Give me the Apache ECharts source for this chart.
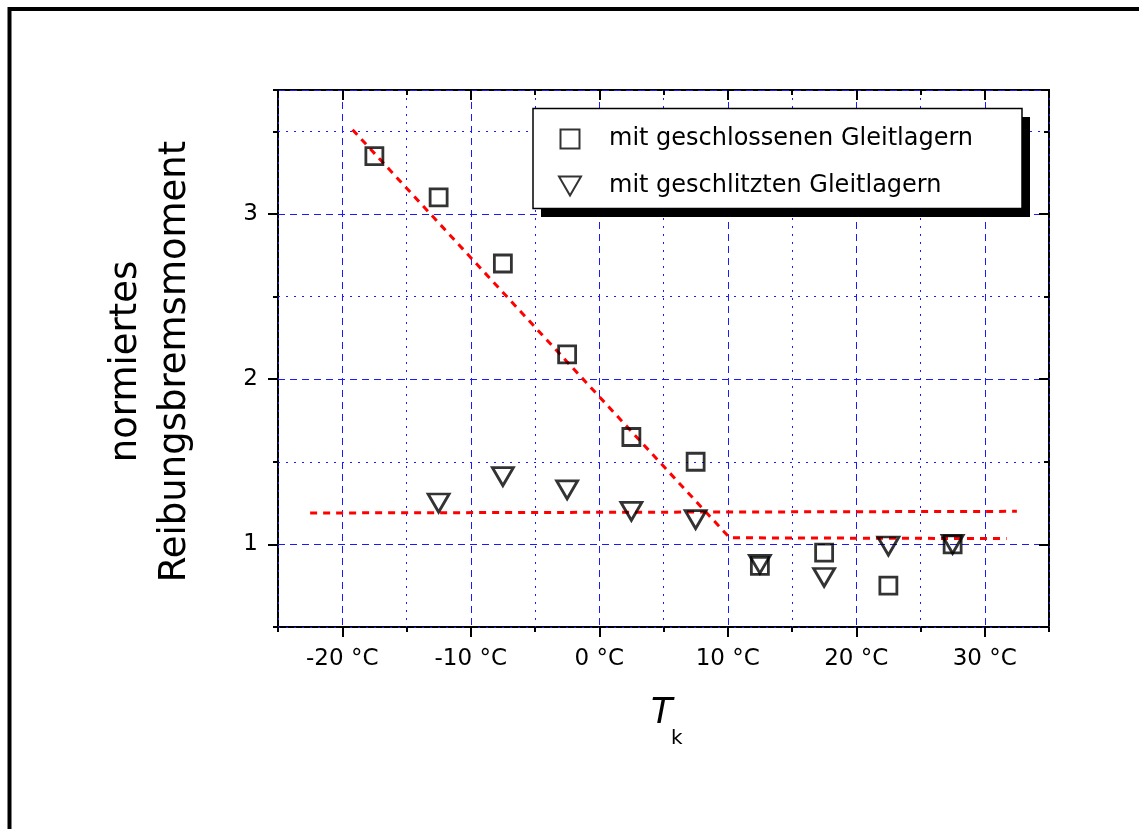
<!DOCTYPE html>
<html>
<head>
<meta charset="utf-8">
<script src="https://cdn.jsdelivr.net/npm/echarts@6/dist/echarts.min.js"></script>
<style>
  html, body { margin: 0; padding: 0; background: #fff; }
  #chart { width: 1139px; height: 829px; }
</style>
</head>
<body>
<div id="chart"></div>
<script>
// temperature classes (°C)
const tempClosed = [-17.5, -12.5, -7.5, -2.5, 2.5, 7.5, 12.5, 17.5, 22.5, 27.5];
const valClosed  = [3.35, 3.10, 2.70, 2.15, 1.65, 1.50, 0.87, 0.95, 0.75, 1.00];
const tempSlotted = [-12.5, -7.5, -2.5, 2.5, 7.5, 12.5, 17.5, 22.5, 27.5];
const valSlotted  = [1.25, 1.41, 1.33, 1.20, 1.15, 0.88, 0.80, 0.99, 1.00];
// red dashed trend lines
const fitClosedX = [-19.2, 10.15, 31.7];
const fitClosedY = [3.51, 1.04, 1.035];
const fitSlottedX = [-22.5, 32.5];
const fitSlottedY = [1.19, 1.20];
// axis ticks
const xMajor = [-20, -10, 0, 10, 20, 30];
const yMajor = [1, 2, 3];

const FONT = '"DejaVu Sans", sans-serif';
const BLUE = '#1a1aff';
const CLEAR = 'rgba(0,0,0,0)';
const X_RANGE = { min: -25, max: 35, interval: 5 };
const Y_RANGE = { min: 0.5, max: 3.75, interval: 0.5 };

function pairs(xs, ys) { return xs.map((x, i) => [x, ys[i]]); }

function baseAxis(range, position, extra) {
  return Object.assign({
    type: 'value', position: position,
    min: range.min, max: range.max, interval: range.interval,
    axisLine: { show: false, onZero: false },
    axisTick: { show: false },
    axisLabel: { show: false },
    splitLine: { show: false }
  }, extra);
}

const tickStyle = { color: '#000', width: 2 };

const xAxes = [
  // major grid (dashed), every second line
  baseAxis(X_RANGE, 'bottom', { splitLine: { show: true, lineStyle: { color: [CLEAR, BLUE], type: [7, 5], width: 1 } } }),
  // minor grid (dotted)
  baseAxis(X_RANGE, 'bottom', { splitLine: { show: true, lineStyle: { color: [BLUE, CLEAR], type: [2, 6], width: 1 } } }),
  // minor ticks
  baseAxis(X_RANGE, 'bottom', { axisTick: { show: true, length: 5, lineStyle: tickStyle } }),
  // major ticks + labels
  baseAxis(X_RANGE, 'bottom', {
    axisTick: { show: true, length: 10, customValues: xMajor, lineStyle: tickStyle },
    axisLabel: { show: true, customValues: xMajor, margin: 21, color: '#000', fontFamily: FONT, fontSize: 23,
      formatter: v => v + ' °C' }
  }),
  baseAxis(X_RANGE, 'top', { axisTick: { show: true, inside: true, length: 5, lineStyle: tickStyle } }),
  baseAxis(X_RANGE, 'top', { axisTick: { show: true, inside: true, length: 10, customValues: xMajor, lineStyle: tickStyle } })
];

const yAxes = [
  baseAxis(Y_RANGE, 'left', {
    splitLine: { show: true, lineStyle: { color: [CLEAR, BLUE], type: [7, 5], width: 1 } },
    name: 'normiertes\nReibungsbremsmoment', nameLocation: 'middle', nameRotate: 90, nameGap: 78,
    nameTextStyle: { color: '#000', fontFamily: FONT, fontSize: 37, lineHeight: 49, align: 'center', padding: [0, 6, 0, 0] }
  }),
  baseAxis(Y_RANGE, 'left', { splitLine: { show: true, lineStyle: { color: [BLUE, CLEAR], type: [2, 6], width: 1 } } }),
  baseAxis(Y_RANGE, 'left', { axisTick: { show: true, length: 5, lineStyle: tickStyle } }),
  baseAxis(Y_RANGE, 'left', {
    axisTick: { show: true, length: 10, customValues: yMajor, lineStyle: tickStyle },
    axisLabel: { show: true, customValues: yMajor, margin: 20, color: '#000', fontFamily: FONT, fontSize: 23 }
  }),
  baseAxis(Y_RANGE, 'right', { axisTick: { show: true, inside: true, length: 5, lineStyle: tickStyle } }),
  baseAxis(Y_RANGE, 'right', { axisTick: { show: true, inside: true, length: 10, customValues: yMajor, lineStyle: tickStyle } })
];

const markerStyle = { color: CLEAR, borderColor: '#000', borderWidth: 2.8 };
const redLine = { color: '#ff0000', width: 3, type: [7, 6] };

const chart = echarts.init(document.getElementById('chart'));
chart.setOption({
  animation: false,
  backgroundColor: '#fff',
  grid: { left: 278, top: 90, right: 90, bottom: 202, show: true, borderColor: '#000', borderWidth: 2, backgroundColor: CLEAR },
  xAxis: xAxes,
  yAxis: yAxes,
  legend: {
    data: ['mit geschlossenen Gleitlagern', 'mit geschlitzten Gleitlagern'],
    orient: 'vertical',
    left: 533, top: 108,
    padding: [19, 10, 17, 25],
    itemWidth: 68, itemHeight: 19, itemGap: 23,
    symbolKeepAspect: true,
    textStyle: { color: '#000', fontFamily: FONT, fontSize: 24 },
    z: 20
  },
  graphic: [
    { type: 'rect', shape: { x: 9.5, y: 9, width: 1300, height: 1000 }, style: { fill: 'none', stroke: '#000', lineWidth: 4 }, silent: true },
    // legend box with solid drop shadow
    { type: 'rect', z: 15, shape: { x: 541, y: 117, width: 489, height: 100 }, style: { fill: '#000' }, silent: true },
    { type: 'rect', z: 16, shape: { x: 533, y: 108.5, width: 489, height: 100 }, style: { fill: '#fff', stroke: '#000', lineWidth: 1.5 }, silent: true },
    { type: 'text', left: 651, top: 696, style: { text: 'T', fontFamily: FONT, fontSize: 35, fontStyle: 'italic', fill: '#000' } },
    { type: 'text', left: 671, top: 729, style: { text: 'k', fontFamily: FONT, fontSize: 20, fill: '#000' } }
  ],
  series: [
    { name: 'trend geschlossen', type: 'line', data: pairs(fitClosedX, fitClosedY), symbol: 'none', lineStyle: redLine, z: 2 },
    { name: 'trend geschlitzt', type: 'line', data: pairs(fitSlottedX, fitSlottedY), symbol: 'none', lineStyle: redLine, z: 2 },
    { name: 'mit geschlossenen Gleitlagern', type: 'scatter', data: pairs(tempClosed, valClosed),
      symbol: 'path://M0,0L10,0L10,10L0,10Z', symbolSize: 17, itemStyle: markerStyle, z: 3 },
    { name: 'mit geschlitzten Gleitlagern', type: 'scatter', data: pairs(tempSlotted, valSlotted),
      symbol: 'path://M0,0L22,0L11,19Z', symbolSize: [21, 18], itemStyle: markerStyle, z: 3 }
  ]
});
</script>
</body>
</html>
